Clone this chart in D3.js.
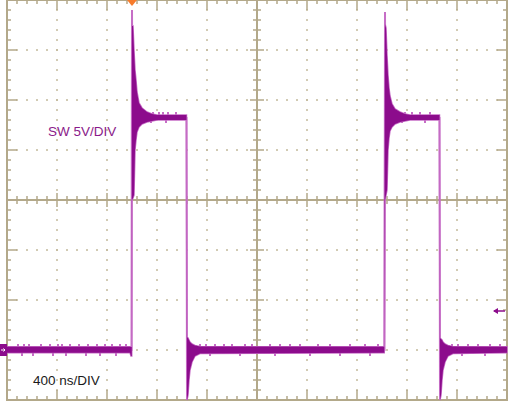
<!DOCTYPE html>
<html>
<head>
<meta charset="utf-8">
<script src="https://cdn.jsdelivr.net/npm/d3@7"></script>
<style>
  body { margin: 0; background: #fff; }
  svg { display: block; }
</style>
</head>
<body>
<script>
let w = 508;
let h = 404;

// time in ns (0 = trigger point), voltage in V
let divTimes = [-1000, -600, -200, 200, 600, 1000, 1400, 1800, 2200, 2600, 3000];
let divVolts = [-5, 0, 5, 10, 15, 20, 25, 30, 35];

// thin centre line of the trace (edges and spike tips)
let lineT = [-1000, -4, 0, 4, 436, 440, 444, 2020, 2024, 2028, 2460, 2464, 2468, 3000];
let lineV = [0, 0, 34, 23.2, 23.2, -5, 0, 0, 33.8, 23.2, 23.2, -5, 0, 0];

// dense part of the trace: upper and lower limit
let bandT = [-1000, -16, -8, -2,
  0, 8, 16, 24, 32, 40, 56, 80, 120, 160, 200, 436,
  440, 448, 456, 464, 480, 504, 544, 2018,
  2024, 2032, 2040, 2048, 2056, 2064, 2080, 2104, 2144, 2184, 2224, 2460,
  2464, 2472, 2480, 2488, 2504, 2528, 2568, 3000];
let bandHi = [0.33, 0.33, 0.3, 0.3,
  32.4, 32.4, 30, 28, 27, 25.8, 24.7, 24.2, 23.8, 23.6, 23.5, 23.5,
  1.3, 1.2, 1.0, 0.8, 0.6, 0.45, 0.35, 0.33,
  32.6, 32.2, 29.5, 27.5, 26.2, 25.4, 24.6, 24.1, 23.8, 23.6, 23.5, 23.5,
  1.2, 1.1, 1.0, 0.8, 0.6, 0.45, 0.35, 0.33];
let bandLo = [-0.27, -0.27, -0.6, -0.6,
  15, 15.2, 15.5, 20, 21, 21.8, 22.3, 22.6, 22.8, 22.9, 23.0, 23.0,
  -5, -4.5, -3, -2, -1.2, -0.6, -0.35, -0.27,
  15, 15.5, 16, 20, 21.2, 21.9, 22.3, 22.6, 22.8, 22.9, 23.0, 23.0,
  -5, -4.5, -3, -2, -1.2, -0.6, -0.35, -0.27];

// small noise spikes sticking out of the band
let glitchT = [-912, -864, -824, -728, -656, -592, -560, -496, -424, -352, -280, -216, -160, -96, -48,
  -880, -792, -632, -528, -368, -256, -128,
  128, 168, 216, 248, 288, 352, 152, 272,
  544, 592, 664, 736, 800, 904, 960, 1104, 1184, 1264, 1344, 1488, 1584, 1744, 1864, 1968,
  624, 864, 1144, 1424, 1664, 1904,
  2104, 2144, 2184, 2240, 2304, 2384, 2160, 2344,
  2560, 2608, 2688, 2768, 2864, 2944, 2640, 2824];
let glitchV = [0.6, 0.6, 0.6, 0.6, 0.6, 0.6, 0.6, 0.6, 0.6, 0.6, 0.6, 0.6, 0.6, 0.6, 0.6,
  -0.6, -0.6, -0.6, -0.6, -0.6, -0.6, -0.6,
  23.8, 23.8, 23.8, 23.8, 23.8, 23.8, 22.7, 22.7,
  0.6, 0.6, 0.6, 0.6, 0.6, 0.6, 0.6, 0.6, 0.6, 0.6, 0.6, 0.6, 0.6, 0.6, 0.6, 0.6,
  -0.6, -0.6, -0.6, -0.6, -0.6, -0.6,
  23.8, 23.8, 23.8, 23.8, 23.8, 23.8, 22.7, 22.7,
  0.6, 0.6, 0.6, 0.6, 0.6, 0.6, -0.6, -0.6];

let triggerLevel = 3.9;

let xScale = d3.scaleLinear().domain([-1000, 3000]).range([7, 507]);
let yScale = d3.scaleLinear().domain([-5, 35]).range([400, 0]);

let gridColor = "#b3a98a";
let dotColor = "#c4bb9c";
let darkPurple = "#8c0c8c";
let lightPurple = "#c66ec6";

let svg = d3.select("body")
  .append("svg")
  .attr("width", w)
  .attr("height", h);

svg.append("rect").attr("width", w).attr("height", h).attr("fill", "#fff");

// dotted division lines
let minorT = d3.range(-1000, 3001, 80);
let minorV = d3.range(-5, 35.01, 1);
let innerT = divTimes.filter((t, i) => i > 0 && i < divTimes.length - 1 && t !== 1000);
let innerV = divVolts.filter((v, i) => i > 0 && i < divVolts.length - 1 && v !== 15);

let dots = svg.append("g").attr("fill", dotColor);
innerV.forEach(function(v) {
  dots.selectAll(null)
    .data(minorT)
    .enter()
    .append("rect")
    .attr("x", t => xScale(t) - 1)
    .attr("y", yScale(v) - 0.75)
    .attr("width", 2)
    .attr("height", 1.5);
});
innerT.forEach(function(t) {
  dots.selectAll(null)
    .data(minorV)
    .enter()
    .append("rect")
    .attr("x", xScale(t) - 1)
    .attr("y", v => yScale(v) - 0.75)
    .attr("width", 2)
    .attr("height", 1.5);
});

// frame and centre cross
let grid = svg.append("g").attr("stroke", gridColor);
let x0 = xScale(-1000), x1 = xScale(3000), y0 = yScale(35), y1 = yScale(-5);
let xc = xScale(1000), yc = yScale(15);

grid.append("rect")
  .attr("x", x0).attr("y", y0)
  .attr("width", x1 - x0).attr("height", y1 - y0)
  .attr("fill", "none").attr("stroke-width", 2);
grid.append("line").attr("x1", x0).attr("x2", x1).attr("y1", yc).attr("y2", yc).attr("stroke-width", 2);
grid.append("line").attr("x1", xc).attr("x2", xc).attr("y1", y0).attr("y2", y1).attr("stroke-width", 2);

let isMajorT = t => divTimes.indexOf(t) >= 0;
let isMajorV = v => divVolts.indexOf(v) >= 0;

// ticks along top / bottom border and the horizontal centre line
minorT.forEach(function(t) {
  let x = xScale(t);
  let len = isMajorT(t) ? 10 : 4;
  grid.append("line").attr("x1", x).attr("x2", x).attr("y1", y0).attr("y2", y0 + len).attr("stroke-width", 1.5);
  grid.append("line").attr("x1", x).attr("x2", x).attr("y1", y1).attr("y2", y1 - len).attr("stroke-width", 1.5);
  let c = isMajorT(t) ? 7 : 4;
  grid.append("line").attr("x1", x).attr("x2", x).attr("y1", yc - c).attr("y2", yc + c).attr("stroke-width", 1.5);
});

// ticks along left / right border and the vertical centre line
minorV.forEach(function(v) {
  let y = yScale(v);
  let len = isMajorV(v) ? 10 : 4;
  grid.append("line").attr("x1", x0).attr("x2", x0 + len).attr("y1", y).attr("y2", y).attr("stroke-width", 1.5);
  grid.append("line").attr("x1", x1).attr("x2", x1 - len).attr("y1", y).attr("y2", y).attr("stroke-width", 1.5);
  let c = isMajorV(v) ? 7 : 4;
  grid.append("line").attr("x1", xc - c).attr("x2", xc + c).attr("y1", y).attr("y2", y).attr("stroke-width", 1.5);
});

// trace
let trace = svg.append("g");

let thinLine = d3.line()
  .x(d => xScale(d[0]))
  .y(d => yScale(d[1]));

trace.append("path")
  .attr("d", thinLine(lineT.map((t, i) => [t, lineV[i]])))
  .attr("fill", "none")
  .attr("stroke", lightPurple)
  .attr("stroke-width", 2);

let bandData = bandT.map((t, i) => [t, bandHi[i], bandLo[i]]);
let band = d3.area()
  .x(d => xScale(d[0]))
  .y0(d => yScale(d[2]))
  .y1(d => yScale(d[1]));

trace.append("path")
  .attr("d", band(bandData))
  .attr("fill", lightPurple)
  .attr("stroke", lightPurple)
  .attr("stroke-width", 1.5);

trace.selectAll(".glitch")
  .data(glitchT)
  .enter()
  .append("rect")
  .attr("class", "glitch")
  .attr("x", t => xScale(t) - 1)
  .attr("y", (t, i) => Math.min(yScale(glitchV[i]), yScale(glitchV[i] > 10 ? 23.2 : 0)))
  .attr("width", 2)
  .attr("height", (t, i) => Math.abs(yScale(glitchV[i]) - yScale(glitchV[i] > 10 ? 23.2 : 0)))
  .attr("fill", lightPurple);

trace.append("path")
  .attr("d", band(bandData))
  .attr("fill", darkPurple);

// trigger position marker (top)
let tx = xScale(0);
svg.append("path")
  .attr("d", `M${tx - 5},0 L${tx + 5},0 L${tx},6 Z`)
  .attr("fill", "#f77b2c");

// channel ground marker (left)
let gy = yScale(0);
svg.append("rect")
  .attr("x", 0).attr("y", gy - 6)
  .attr("width", 7).attr("height", 12)
  .attr("fill", darkPurple);
svg.append("path")
  .attr("d", `M1,${gy} L5,${gy} M3.5,${gy - 1.5} L5,${gy} L3.5,${gy + 1.5}`)
  .attr("stroke", "#fff")
  .attr("stroke-width", 1)
  .attr("fill", "none");

// trigger level marker (right)
let ly = yScale(triggerLevel);
svg.append("path")
  .attr("d", `M494,${ly} L505,${ly}`)
  .attr("stroke", darkPurple)
  .attr("stroke-width", 1.5);
svg.append("path")
  .attr("d", `M493,${ly} L498,${ly - 3} L498,${ly + 3} Z`)
  .attr("fill", darkPurple);

// labels
svg.append("text")
  .attr("x", 48)
  .attr("y", 136)
  .attr("font-family", "'Liberation Sans', Arial, sans-serif")
  .attr("font-size", "13.5px")
  .attr("fill", "#8a1a8a")
  .text("SW 5V/DIV");

svg.append("text")
  .attr("x", 33)
  .attr("y", 385)
  .attr("font-family", "'Liberation Sans', Arial, sans-serif")
  .attr("font-size", "13.5px")
  .attr("fill", "#1a1a1a")
  .text("400 ns/DIV");
</script>
</body>
</html>
